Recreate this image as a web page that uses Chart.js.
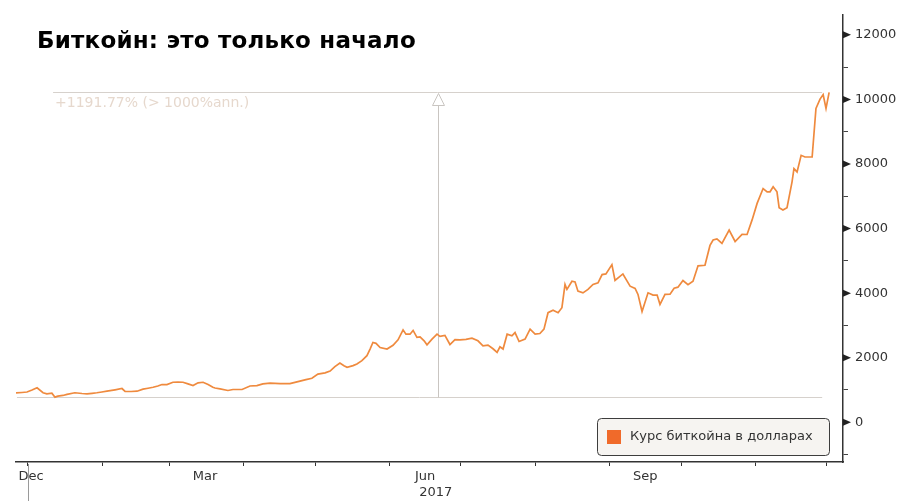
<!DOCTYPE html>
<html><head><meta charset="utf-8">
<script src="https://cdn.jsdelivr.net/npm/chart.js@4.4.0/dist/chart.umd.min.js"></script>
<style>
html,body{margin:0;padding:0;background:#fff;}
#wrap{position:relative;width:902px;height:501px;overflow:hidden;}
#title{position:absolute;left:37px;top:27px;font:bold 23px "DejaVu Sans";letter-spacing:0.2px;color:#000;white-space:nowrap;}
canvas{position:absolute;left:0;top:0;}
</style></head><body>
<div id="wrap"><canvas id="c" width="902" height="501"></canvas><div id="title">Биткойн: это только начало</div></div>
<script>
const seriesLabel = 'Курс биткойна в долларах';
// days since 1 Jan 2017
const days = [-5.0,-2.5,-0.4,1.7,3.8,6.3,7.9,10.0,11.3,12.5,14.6,16.3,19.6,22.6,24.7,26.8,28.8,30.9,33.0,36.4,39.3,40.6,43.1,45.6,48.1,50.2,52.3,54.3,56.0,58.1,60.6,62.7,64.8,66.9,69.0,71.1,73.2,75.3,77.3,78.2,80.3,83.6,85.7,87.4,89.5,92.8,95.7,98.2,101.2,105.4,109.5,113.7,116.2,118.7,121.2,124.2,126.3,128.3,130.4,132.1,133.4,135.9,137.5,139.6,141.7,143.0,144.2,145.5,147.2,150.1,152.6,154.7,156.8,158.0,159.7,161.0,162.6,163.9,165.6,166.8,168.9,171.0,172.2,174.3,176.4,178.5,180.6,183.1,185.6,188.1,190.2,192.3,194.4,196.1,197.3,198.6,200.3,202.3,203.6,205.3,207.8,209.9,212.0,214.0,215.7,217.4,219.5,221.6,223.2,224.5,225.3,227.4,228.7,229.9,232.0,234.1,236.2,238.3,240.0,241.6,244.1,245.4,248.7,251.7,253.8,255.0,256.7,259.2,261.3,263.0,264.2,266.3,268.4,270.1,271.7,273.8,275.9,278.0,280.1,283.0,285.1,286.4,288.0,290.1,293.1,295.6,298.5,300.6,302.7,304.8,307.3,309.0,310.2,311.5,313.1,314.0,315.6,317.3,319.4,320.2,321.5,323.2,324.8,327.8,329.4,331.1,332.4,333.6,334.9];
const prices = [908,923,938,1000,1068,914,883,902,778,809,831,862,914,892,883,898,914,938,963,1006,1046,954,954,963,1025,1055,1086,1123,1169,1169,1240,1246,1240,1191,1138,1222,1240,1169,1086,1062,1037,985,1015,1015,1015,1123,1138,1191,1215,1200,1200,1277,1323,1363,1492,1529,1585,1723,1837,1754,1702,1754,1806,1908,2062,2268,2471,2446,2317,2268,2385,2554,2862,2729,2729,2846,2631,2646,2523,2400,2575,2729,2662,2692,2409,2560,2554,2569,2606,2523,2369,2391,2277,2163,2339,2268,2729,2677,2779,2502,2575,2883,2729,2748,2883,3394,3468,3394,3548,4268,4114,4369,4348,4062,4009,4114,4268,4317,4575,4594,4883,4391,4594,4215,4145,3960,3431,4009,3939,3939,3652,3960,3969,4154,4185,4391,4262,4369,4846,4862,5477,5646,5677,5539,5954,5600,5822,5816,6268,6779,7240,7138,7138,7292,7138,6646,6575,6646,7446,7856,7754,8268,8216,8216,9723,10010,10150,9723,10215];
const monthStartDays = [0,31,59,90,120,151,181,212,243,273,304,334];
const monthLabelDays = [1.3,74,166,258];
const monthLabels = ['Dec','Mar','Jun','Sep'];
const yearLabel = '2017';
const yearLabelDay = 170.5;
const yTickValues = [-1000,0,1000,2000,3000,4000,5000,6000,7000,8000,9000,10000,11000,12000];
const changeLabel = '+1191.77% (> 1000%ann.)';
const highValue = 10215;
const lowValue = 791;
const measureDay = 171.6;
const highLineStartDay = 10.5;
const lowLineStartDay = -4.6;
const lineEndDay = 332;

const FONT = '"DejaVu Sans", sans-serif';

const decorPlugin = {
  id: 'decor',
  beforeDatasetsDraw(chart) {
    const ctx = chart.ctx, x = chart.scales.x, y = chart.scales.y;
    const yh = Math.round(y.getPixelForValue(highValue)) + 0.5;
    const yl = Math.round(y.getPixelForValue(lowValue)) + 0.5;
    const xm = Math.round(x.getPixelForValue(measureDay)) + 0.5;
    ctx.save();
    ctx.strokeStyle = '#d6d1cc';
    ctx.lineWidth = 1;
    ctx.beginPath();
    ctx.moveTo(x.getPixelForValue(highLineStartDay), yh);
    ctx.lineTo(x.getPixelForValue(lineEndDay), yh);
    ctx.moveTo(x.getPixelForValue(lowLineStartDay), yl);
    ctx.lineTo(x.getPixelForValue(lineEndDay), yl);
    ctx.stroke();
    ctx.strokeStyle = '#c9c5c1';
    ctx.beginPath();
    ctx.moveTo(xm, yl);
    ctx.lineTo(xm, yh + 12);
    ctx.stroke();
    // hollow arrow head
    ctx.fillStyle = '#ffffff';
    ctx.beginPath();
    ctx.moveTo(xm, yh + 1);
    ctx.lineTo(xm - 6, yh + 13);
    ctx.lineTo(xm + 6, yh + 13);
    ctx.closePath();
    ctx.fill();
    ctx.stroke();
    ctx.fillStyle = '#e6d8cd';
    ctx.font = '14px ' + FONT;
    ctx.textBaseline = 'middle';
    ctx.textAlign = 'left';
    ctx.fillText(changeLabel, x.getPixelForValue(highLineStartDay) + 2, yh + 11);
    ctx.restore();
  },
  afterDraw(chart) {
    const ctx = chart.ctx, x = chart.scales.x, y = chart.scales.y, area = chart.chartArea;
    ctx.save();
    // triangles on major y ticks
    ctx.fillStyle = '#222';
    yTickValues.forEach(v => {
      if (v >= 0 && v % 2000 === 0) {
        const py = y.getPixelForValue(v);
        ctx.beginPath();
        ctx.moveTo(area.right, py - 3.5);
        ctx.lineTo(area.right + 8, py);
        ctx.lineTo(area.right, py + 3.5);
        ctx.closePath();
        ctx.fill();
      }
    });
    // year separator + label
    const x0 = Math.round(x.getPixelForValue(0)) + 0.5;
    ctx.strokeStyle = '#9a9a9a';
    ctx.lineWidth = 1;
    ctx.beginPath();
    ctx.moveTo(x0, area.bottom + 2);
    ctx.lineTo(x0, chart.height);
    ctx.stroke();
    ctx.fillStyle = '#333';
    ctx.font = '13px ' + FONT;
    ctx.textAlign = 'center';
    ctx.textBaseline = 'middle';
    ctx.fillText(yearLabel, x.getPixelForValue(yearLabelDay), area.bottom + 31);
    // legend
    const lx = area.right - 246, ly = area.bottom - 44, lw = 232, lh = 37;
    ctx.beginPath();
    ctx.roundRect(lx + 0.5, ly + 0.5, lw, lh, 4);
    ctx.fillStyle = '#f6f4f1';
    ctx.fill();
    ctx.strokeStyle = '#3d3d3d';
    ctx.stroke();
    ctx.fillStyle = '#f06a2a';
    ctx.fillRect(lx + 10, ly + 12, 14, 14);
    ctx.fillStyle = '#333';
    ctx.textAlign = 'left';
    ctx.fillText(seriesLabel, lx + 33, ly + 19);
    ctx.restore();
  }
};

new Chart(document.getElementById('c'), {
  type: 'line',
  data: {
    datasets: [{
      label: seriesLabel,
      data: days.map((d, i) => ({x: d, y: prices[i]})),
      borderColor: '#ef8a3e',
      borderWidth: 1.7,
      pointRadius: 0,
      tension: 0,
      fill: false
    }]
  },
  options: {
    responsive: false,
    devicePixelRatio: 1,
    animation: false,
    layout: {padding: {left: 16, top: 12, right: 0, bottom: 0}},
    plugins: {legend: {display: false}, tooltip: {enabled: false}},
    scales: {
      x: {
        type: 'linear', position: 'bottom', min: -5, max: 340.7,
        afterBuildTicks: s => { s.ticks = monthStartDays.map(v => ({value: v})); },
        afterFit: s => { s.height = 6; },
        ticks: {callback: () => '', autoSkip: false, maxRotation: 0},
        grid: {drawOnChartArea: false, drawTicks: true, tickLength: 4, color: '#333', lineWidth: 1},
        border: {color: '#333', width: 1.5}
      },
      xl: {
        type: 'linear', position: 'bottom', min: -5, max: 340.7,
        afterBuildTicks: s => { s.ticks = monthLabelDays.map(v => ({value: v})); },
        afterFit: s => { s.height = 33; },
        ticks: {callback: (v, i) => monthLabels[i], autoSkip: false, maxRotation: 0, padding: 1,
                font: {family: FONT, size: 13}, color: '#333'},
        grid: {display: false, drawTicks: false},
        border: {display: false}
      },
      y: {
        type: 'linear', position: 'right', min: -1230, max: 12620,
        afterBuildTicks: s => { s.ticks = yTickValues.map(v => ({value: v})); },
        afterFit: s => { s.width = 59; },
        ticks: {callback: v => (v >= 0 && v % 2000 === 0) ? String(v) : '', autoSkip: false, padding: 7,
                font: {family: FONT, size: 13}, color: '#333'},
        grid: {drawOnChartArea: false, drawTicks: true, tickLength: 5, color: '#444', lineWidth: 1},
        border: {color: '#333', width: 1.5}
      }
    }
  },
  plugins: [decorPlugin]
});
</script>
</body></html>
